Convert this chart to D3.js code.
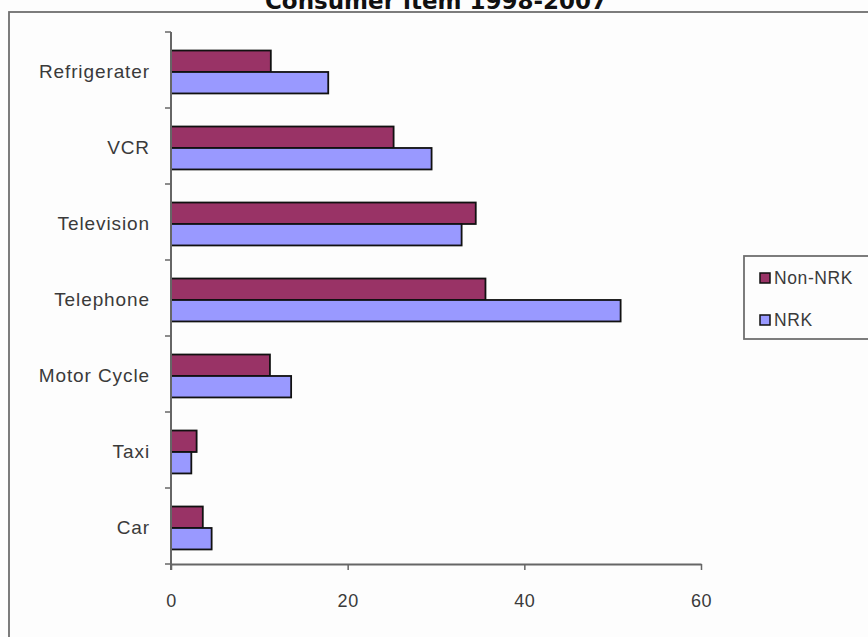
<!DOCTYPE html>
<html>
<head>
<meta charset="utf-8">
<script src="https://cdn.jsdelivr.net/npm/d3@7"></script>
<style>
  body { margin: 0; background: #fdfdfd; }
  svg { display: block; }
</style>
</head>
<body>
<svg width="868" height="637"></svg>
<script>
(function (d3) {
  'use strict';

  // data
  const categories = ['Refrigerater', 'VCR', 'Television', 'Telephone', 'Motor Cycle', 'Taxi', 'Car'];
  const seriesNames = ['Non-NRK', 'NRK'];
  const nonNrk = [11.3, 25.2, 34.5, 35.6, 11.2, 2.9, 3.6];
  const nrk = [17.8, 29.5, 32.9, 50.9, 13.6, 2.3, 4.6];
  const xTicks = [0, 20, 40, 60];
  const colors = ['#993366', '#9999ff'];

  const svg = d3.select('svg');
  const width = +svg.attr('width');
  const height = +svg.attr('height');

  const font = 'Arial, "Liberation Sans", sans-serif';
  const textColor = '#3a3a3a';
  const axisColor = '#666';

  // outer chart border (cut off on the right and bottom)
  svg.append('rect')
    .attr('x', 9).attr('y', 12)
    .attr('width', width + 20).attr('height', height + 20)
    .attr('fill', '#fdfdfd')
    .attr('stroke', '#6f6f6f')
    .attr('stroke-width', 1.8);

  // title, top half sits outside the window like in the source
  svg.append('text')
    .attr('x', 436).attr('y', 9)
    .attr('text-anchor', 'middle')
    .attr('font-family', '"DejaVu Sans", sans-serif')
    .attr('font-weight', 'bold')
    .attr('font-size', 23)
    .attr('fill', '#111')
    .text('Consumer item 1998-2007');

  const x = d3.scaleLinear().domain([0, 60]).range([171, 701]);
  const y0 = d3.scaleBand().domain(categories).range([32, 564]).padding(0);
  const y1 = d3.scaleBand().domain(seriesNames)
    .range([0, y0.bandwidth()])
    .paddingInner(0).paddingOuter(0.77).align(0.56);

  const rows = categories.map((c, i) => ({ cat: c, vals: [nonNrk[i], nrk[i]] }));

  const groups = svg.append('g').selectAll('g')
    .data(rows)
    .join('g')
      .attr('transform', d => `translate(0,${y0(d.cat)})`);

  groups.selectAll('rect')
    .data(d => d.vals.map((v, k) => ({ name: seriesNames[k], v, k })))
    .join('rect')
      .attr('x', x(0))
      .attr('y', d => y1(d.name))
      .attr('width', d => x(d.v) - x(0))
      .attr('height', y1.bandwidth())
      .attr('fill', d => colors[d.k])
      .attr('stroke', '#111')
      .attr('stroke-width', 1.8);

  // x axis
  const xAxis = svg.append('g')
    .attr('transform', 'translate(0,564)')
    .call(d3.axisBottom(x).tickValues(xTicks).tickSize(6).tickSizeOuter(0).tickPadding(24));
  xAxis.select('.domain').attr('stroke', axisColor).attr('stroke-width', 2);
  xAxis.selectAll('.tick line').attr('stroke', axisColor).attr('stroke-width', 1.5);
  xAxis.selectAll('.tick text')
    .attr('font-family', font).attr('font-size', 18)
    .attr('letter-spacing', 0.6)
    .attr('fill', textColor);

  // y axis: ticks sit between categories
  const yAxisG = svg.append('g');
  yAxisG.append('line')
    .attr('x1', x(0)).attr('x2', x(0))
    .attr('y1', y0.range()[0]).attr('y2', 570)
    .attr('stroke', axisColor).attr('stroke-width', 2);
  const bounds = categories.map(c => y0(c)).concat([y0.range()[1]]);
  yAxisG.selectAll('line.tk')
    .data(bounds)
    .join('line')
      .attr('class', 'tk')
      .attr('x1', x(0) - 6).attr('x2', x(0))
      .attr('y1', d => d).attr('y2', d => d)
      .attr('stroke', axisColor).attr('stroke-width', 1.5);
  yAxisG.selectAll('text')
    .data(categories)
    .join('text')
      .attr('x', 150)
      .attr('y', d => y0(d) + y0.bandwidth() / 2 + 1)
      .attr('dy', '0.35em')
      .attr('text-anchor', 'end')
      .attr('font-family', font).attr('font-size', 19)
      .attr('letter-spacing', 0.9)
      .attr('fill', textColor)
      .text(d => d);

  // legend
  const legend = svg.append('g').attr('transform', 'translate(744,256)');
  legend.append('rect')
    .attr('width', 140).attr('height', 83)
    .attr('fill', '#fdfdfd')
    .attr('stroke', '#6f6f6f').attr('stroke-width', 1.8);
  const items = legend.selectAll('g.item')
    .data(seriesNames)
    .join('g')
      .attr('class', 'item')
      .attr('transform', (d, i) => `translate(16,${22 + i * 42})`);
  items.append('rect')
    .attr('x', 0).attr('y', -5)
    .attr('width', 10).attr('height', 10)
    .attr('fill', (d, i) => colors[i])
    .attr('stroke', '#111').attr('stroke-width', 1.5);
  items.append('text')
    .attr('x', 14).attr('dy', '0.35em')
    .attr('font-family', font).attr('font-size', 17.5)
    .attr('letter-spacing', 0.6)
    .attr('fill', textColor)
    .text(d => d);

}(d3));
</script>
</body>
</html>
